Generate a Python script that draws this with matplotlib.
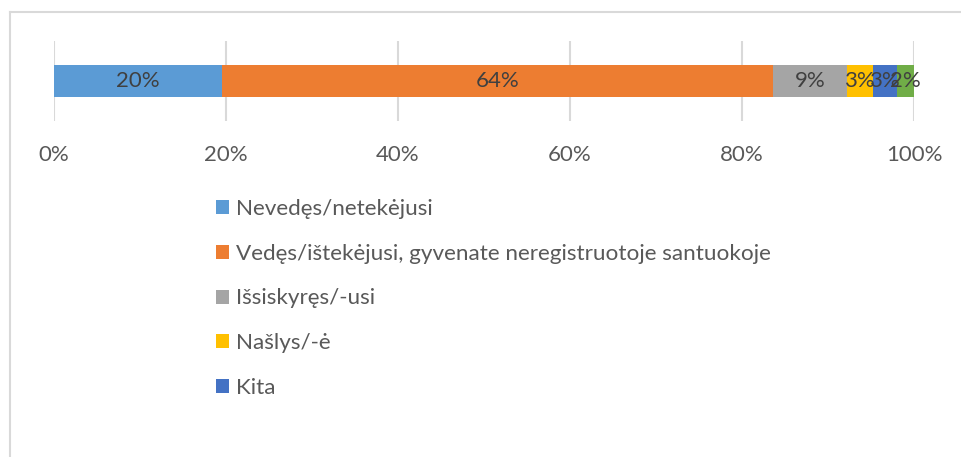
import matplotlib.pyplot as plt
from matplotlib.lines import Line2D

# Duomenys
kategorijos = ["Nevedęs/netekėjusi",
               "Vedęs/ištekėjusi, gyvenate neregistruotoje santuokoje",
               "Išsiskyręs/-usi",
               "Našlys/-ė",
               "Kita",
               "Kita (2)"]
reiksmes = [19.5, 64.1, 8.6, 3.0, 2.8, 2.0]
etiketes = ["20%", "64%", "9%", "3%", "3%", "2%"]
spalvos = ["#5b9bd5", "#ed7d31", "#a5a5a5", "#ffc000", "#4472c4", "#70ad47"]
xticks = [0, 20, 40, 60, 80, 100]

plt.rcParams['font.family'] = ['Lato', 'DejaVu Sans']

W, H = 962, 457
fig = plt.figure(figsize=(W / 100, H / 100), dpi=100)
ax = fig.add_axes([54 / W, 1 - 121 / H, 860 / W, 80 / H])

kaire = 0
bars = []
for kat, v, et, c in zip(kategorijos, reiksmes, etiketes, spalvos):
    b = ax.barh(0, v, left=kaire, height=0.41, color=c, label=kat, zorder=3)
    ax.text(kaire + v / 2, 0, et, ha="center", va="center",
            fontsize=16, color="#404040", zorder=4)
    bars.append(b)
    kaire += v

ax.set_xlim(0, 100)
ax.set_ylim(-0.5, 0.5)
ax.set_xticks(xticks)
ax.set_xticklabels([f"{t}%" for t in xticks], fontsize=16, color="#595959")
ax.set_yticks([])
ax.tick_params(axis="x", length=0, pad=17)
for s in ax.spines.values():
    s.set_visible(False)
ax.grid(axis="x", color="#d9d9d9", linewidth=1.5, zorder=0)

# legenda (tik pirmos penkios kategorijos matomos)
fig.legend(handles=[b for b in bars[:5]], labels=kategorijos[:5],
           loc="upper left", bbox_to_anchor=(216 / W, 1 - 199 / H),
           frameon=False, fontsize=16.2, labelcolor="#595959",
           handlelength=0.58, handleheight=0.58, handletextpad=0.33,
           labelspacing=1.1, borderpad=0, borderaxespad=0)

# rėmelis
fig.add_artist(Line2D([10 / W, 1], [1 - 12 / H, 1 - 12 / H],
                      transform=fig.transFigure, color="#d9d9d9", linewidth=1.5))
fig.add_artist(Line2D([10 / W, 10 / W], [0, 1 - 12 / H],
                      transform=fig.transFigure, color="#d9d9d9", linewidth=1.5))

fig.savefig("out.png", dpi=100)
